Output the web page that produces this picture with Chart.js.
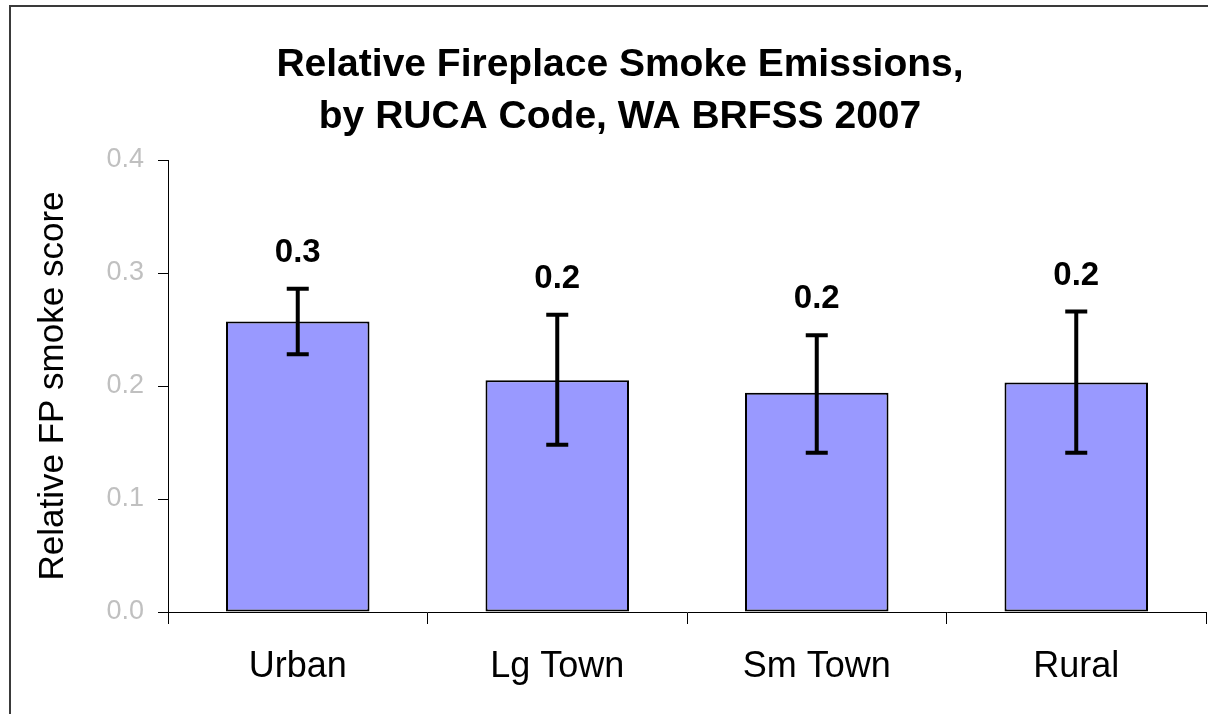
<!DOCTYPE html>
<html>
<head>
<meta charset="utf-8">
<script src="https://cdn.jsdelivr.net/npm/chart.js@4.4.1/dist/chart.umd.min.js"></script>
<style>
	body { margin: 0; background: #fff; }
</style>
</head>
<body>
<canvas id="fpChart" width="1208" height="714"></canvas>
<script>
// data
const categories = ["Urban", "Lg Town", "Sm Town", "Rural"];
const smokeScore = [0.257, 0.205, 0.194, 0.203];
const errHigh = [0.286, 0.263, 0.245, 0.266];
const errLow = [0.228, 0.148, 0.141, 0.141];
const yTicks = [0, 0.1, 0.2, 0.3, 0.4];
const titleLines = ["Relative Fireplace Smoke Emissions,", "by RUCA Code, WA BRFSS 2007"];
const yTitle = "Relative FP smoke score";

const fontFamily = '"Liberation Sans", Arial, sans-serif';

// white background + outer frame
const framePlugin = {
	id: "frame",
	beforeDraw: (chart) => {
		const ctx = chart.ctx;
		ctx.save();
		ctx.fillStyle = "#fff";
		ctx.fillRect(0, 0, chart.width, chart.height);
		ctx.strokeStyle = "#3a3a3a";
		ctx.lineWidth = 2;
		ctx.strokeRect(10, 6, chart.width + 50, chart.height + 50);
		ctx.restore();
	}
};

// error bars + value labels
const errorPlugin = {
	id: "errorBars",
	afterDatasetsDraw: (chart) => {
		const ctx = chart.ctx;
		const yScale = chart.scales.y;
		const meta = chart.getDatasetMeta(0);
		ctx.save();
		ctx.strokeStyle = "#000";
		ctx.lineWidth = 4;
		meta.data.forEach((bar, i) => {
			const x = bar.x;
			const yHi = yScale.getPixelForValue(errHigh[i]);
			const yLo = yScale.getPixelForValue(errLow[i]);
			ctx.beginPath();
			ctx.moveTo(x, yHi);
			ctx.lineTo(x, yLo);
			ctx.moveTo(x - 11, yHi);
			ctx.lineTo(x + 11, yHi);
			ctx.moveTo(x - 11, yLo);
			ctx.lineTo(x + 11, yLo);
			ctx.stroke();

			ctx.fillStyle = "#000";
			ctx.font = "bold 33px " + fontFamily;
			ctx.textAlign = "center";
			ctx.textBaseline = "middle";
			ctx.fillText(smokeScore[i].toFixed(1), x, yHi - 36);
		});
		ctx.restore();
	}
};

// two line title
const titlePlugin = {
	id: "twoLineTitle",
	afterDraw: (chart) => {
		const ctx = chart.ctx;
		ctx.save();
		ctx.fillStyle = "#000";
		ctx.font = "bold 39px " + fontFamily;
		ctx.textAlign = "center";
		ctx.textBaseline = "alphabetic";
		ctx.fillText(titleLines[0], 620, 76);
		ctx.fillText(titleLines[1], 620, 128);
		ctx.restore();
	}
};

const ctx1 = document.getElementById("fpChart");
const config1 = {
	type: "bar",
	data: {
		labels: categories,
		datasets: [{
			data: smokeScore,
			backgroundColor: "#9999ff",
			borderColor: "#000",
			borderWidth: 2,
			borderSkipped: false,
			barPercentage: 0.553,
			categoryPercentage: 1
		}]
	},
	options: {
		responsive: false,
		animation: false,
		layout: {
			padding: { top: 160, right: 2, left: 0, bottom: 0 }
		},
		scales: {
			x: {
				grid: {
					offset: true,
					drawOnChartArea: false,
					tickLength: 12,
					tickColor: "#000"
				},
				border: { display: true, color: "#000", width: 1 },
				ticks: {
					color: "#000",
					padding: 21,
					font: { size: 36, family: fontFamily }
				},
				afterFit: (axis) => { axis.height = 102; }
			},
			y: {
				min: 0,
				max: 0.4,
				afterBuildTicks: (axis) => {
					axis.ticks = yTicks.map((v) => ({ value: v }));
				},
				grid: {
					drawOnChartArea: false,
					tickLength: 10,
					tickColor: "#000"
				},
				border: { display: true, color: "#000", width: 1 },
				ticks: {
					color: "#c0c0c0",
					padding: 14,
					font: { size: 27, family: fontFamily },
					callback: (value) => Number(value).toFixed(1)
				},
				title: {
					display: true,
					text: yTitle,
					color: "#000",
					font: { size: 35, family: fontFamily },
					padding: { top: 32, bottom: 0 }
				},
				afterFit: (axis) => { axis.width = 168; }
			}
		},
		plugins: {
			legend: { display: false },
			tooltip: { enabled: false },
			title: { display: false }
		}
	},
	plugins: [framePlugin, errorPlugin, titlePlugin]
};
const fpChart = new Chart(ctx1, config1);
</script>
</body>
</html>
